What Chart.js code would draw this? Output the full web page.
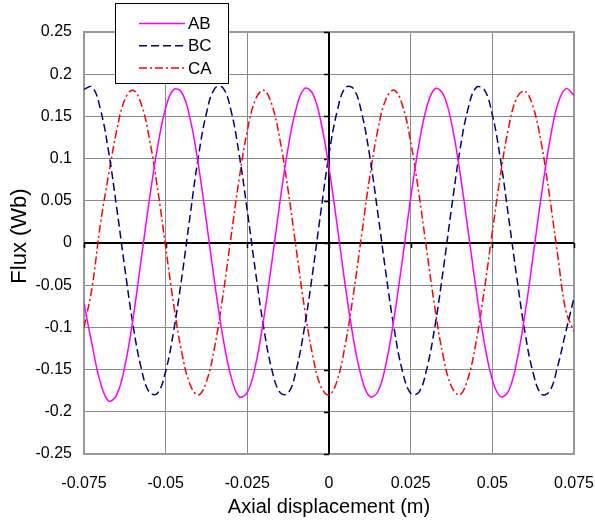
<!DOCTYPE html>
<html>
<head>
<meta charset="utf-8">
<script src="https://cdn.jsdelivr.net/npm/chart.js@4.4.1/dist/chart.umd.min.js"></script>
<style>
  html, body { margin: 0; padding: 0; background: #fff; }
</style>
</head>
<body>
<canvas id="c" width="595" height="522"></canvas>
<script>
// Axial displacement (m)
const xPos = [
  -0.075, -0.0725, -0.07, -0.0675, -0.065, -0.0625, -0.06, -0.0575, -0.055, -0.0525,
  -0.05, -0.0475, -0.045, -0.0425, -0.04, -0.0375, -0.035, -0.0325, -0.03, -0.0275,
  -0.025, -0.0225, -0.02, -0.0175, -0.015, -0.0125, -0.01, -0.0075, -0.005, -0.0025,
  0, 0.0025, 0.005, 0.0075, 0.01, 0.0125, 0.015, 0.0175, 0.02, 0.0225,
  0.025, 0.0275, 0.03, 0.0325, 0.035, 0.0375, 0.04, 0.0425, 0.045, 0.0475,
  0.05, 0.0525, 0.055, 0.0575, 0.06, 0.0625, 0.065, 0.0675, 0.07, 0.0725,
  0.075
];

// Flux (Wb) per phase pair
const fluxAB = [
  -0.072, -0.121, -0.165, -0.187, -0.180, -0.146, -0.090, -0.020, 0.051, 0.113,
  0.160, 0.182, 0.178, 0.147, 0.093, 0.025, -0.047, -0.111, -0.158, -0.182,
  -0.177, -0.145, -0.090, -0.023, 0.049, 0.113, 0.160, 0.183, 0.177, 0.144,
  0.089, 0.021, -0.051, -0.114, -0.160, -0.182, -0.176, -0.142, -0.087, -0.019,
  0.053, 0.116, 0.162, 0.183, 0.176, 0.142, 0.086, 0.017, -0.054, -0.117,
  -0.162, -0.182, -0.175, -0.140, -0.084, -0.015, 0.056, 0.119, 0.164, 0.183,
  0.175
];
const fluxBC = [
  0.182, 0.185, 0.159, 0.109, 0.042, -0.030, -0.097, -0.148, -0.177, -0.178,
  -0.152, -0.103, -0.039, 0.033, 0.102, 0.154, 0.183, 0.184, 0.157, 0.105,
  0.038, -0.034, -0.100, -0.150, -0.177, -0.178, -0.150, -0.100, -0.035, 0.037,
  0.105, 0.156, 0.184, 0.183, 0.154, 0.102, 0.034, -0.038, -0.103, -0.152,
  -0.178, -0.177, -0.148, -0.097, -0.031, 0.041, 0.108, 0.158, 0.184, 0.182,
  0.152, 0.099, 0.030, -0.041, -0.106, -0.154, -0.179, -0.176, -0.146, -0.105,
  -0.065
];
const fluxCA = [
  -0.100, -0.052, 0.022, 0.080, 0.133, 0.170, 0.181, 0.165, 0.124, 0.065,
  -0.005, -0.074, -0.131, -0.168, -0.180, -0.164, -0.123, -0.063, 0.007, 0.076,
  0.133, 0.170, 0.181, 0.164, 0.122, 0.062, -0.008, -0.077, -0.133, -0.170,
  -0.180, -0.163, -0.120, -0.060, 0.010, 0.079, 0.135, 0.171, 0.181, 0.163,
  0.120, 0.059, -0.011, -0.079, -0.135, -0.170, -0.180, -0.161, -0.118, -0.057,
  0.013, 0.081, 0.137, 0.172, 0.180, 0.161, 0.118, 0.056, -0.014, -0.080,
  -0.105
];

const xTicks = [-0.075, -0.05, -0.025, 0, 0.025, 0.05, 0.075];
const yTicks = [-0.25, -0.2, -0.15, -0.1, -0.05, 0, 0.05, 0.1, 0.15, 0.2, 0.25];

const FONT = '"Liberation Sans", Arial, sans-serif';
const pts = ys => xPos.map((x, i) => ({ x: x, y: ys[i] }));

// plot frame + the black zero axes with their little crossing ticks
const zeroAxes = {
  id: 'zeroAxes',
  beforeDatasetsDraw(chart) {
    const { ctx, chartArea: a, scales: { x, y } } = chart;
    ctx.save();
    ctx.strokeStyle = '#999';
    ctx.lineWidth = 2;
    ctx.strokeRect(a.left, a.top, a.right - a.left, a.bottom - a.top);

    const x0 = Math.round(x.getPixelForValue(0));
    const y0 = Math.round(y.getPixelForValue(0));
    ctx.strokeStyle = '#000';
    ctx.beginPath();
    ctx.moveTo(x0, a.top); ctx.lineTo(x0, a.bottom);
    ctx.moveTo(a.left, y0); ctx.lineTo(a.right, y0);
    ctx.stroke();

    ctx.lineWidth = 1.5;
    ctx.beginPath();
    y.ticks.forEach(t => {
      const py = Math.round(y.getPixelForValue(t.value)) + 0.5;
      ctx.moveTo(x0 - 5, py); ctx.lineTo(x0, py);
    });
    x.ticks.forEach(t => {
      const px = Math.round(x.getPixelForValue(t.value)) + 0.5;
      ctx.moveTo(px, y0); ctx.lineTo(px, y0 + 5);
    });
    ctx.stroke();
    ctx.restore();
  }
};

// boxed legend and axis titles
const overlay = {
  id: 'overlay',
  afterDraw(chart) {
    const ctx = chart.ctx;
    ctx.save();
    ctx.fillStyle = '#fff';
    ctx.fillRect(115, 3, 113, 80);
    ctx.strokeStyle = '#000';
    ctx.lineWidth = 1;
    ctx.strokeRect(115.5, 3.5, 113, 80);

    ctx.font = '17px ' + FONT;
    ctx.textAlign = 'left';
    ctx.textBaseline = 'middle';
    chart.data.datasets.forEach((ds, i) => {
      const ly = 23.5 + i * 22.3;
      ctx.strokeStyle = ds.borderColor;
      ctx.lineWidth = ds.borderWidth;
      ctx.setLineDash(ds.borderDash || []);
      ctx.beginPath();
      ctx.moveTo(139, ly); ctx.lineTo(185, ly);
      ctx.stroke();
      ctx.setLineDash([]);
      ctx.fillStyle = '#000';
      ctx.fillText(ds.label, 188, ly + 1);
    });

    ctx.fillStyle = '#000';
    ctx.font = '20px ' + FONT;
    ctx.textAlign = 'center';
    ctx.textBaseline = 'alphabetic';
    ctx.fillText('Axial displacement (m)', 329, 513);

    ctx.translate(26, 236);
    ctx.rotate(-Math.PI / 2);
    ctx.font = '22px ' + FONT;
    ctx.fillText('Flux (Wb)', 0, 0);
    ctx.restore();
  }
};

new Chart(document.getElementById('c'), {
  type: 'line',
  data: {
    datasets: [
      { label: 'AB', data: pts(fluxAB), borderColor: '#ff00ff', borderWidth: 1.5, pointRadius: 0, tension: 0.4, fill: false },
      { label: 'BC', data: pts(fluxBC), borderColor: '#000080', borderWidth: 1.5, borderDash: [8, 4], pointRadius: 0, tension: 0.4, fill: false },
      { label: 'CA', data: pts(fluxCA), borderColor: '#ff0000', borderWidth: 1.5, borderDash: [8, 3, 2, 3], pointRadius: 0, tension: 0.4, fill: false }
    ]
  },
  plugins: [zeroAxes, overlay],
  options: {
    responsive: false,
    animation: false,
    devicePixelRatio: 1,
    layout: { padding: { top: 32, right: 21, left: 0, bottom: 0 } },
    plugins: { legend: { display: false }, tooltip: { enabled: false } },
    scales: {
      x: {
        type: 'linear',
        min: -0.075,
        max: 0.075,
        afterBuildTicks: s => { s.ticks = xTicks.map(v => ({ value: v })); },
        afterFit: s => { s.height = 68; s.paddingLeft = 0; s.paddingRight = 0; },
        grid: { color: '#8a8a8a', lineWidth: 1, drawTicks: false },
        border: { display: false },
        ticks: { color: '#000', padding: 20, maxRotation: 0, font: { family: FONT, size: 16 }, callback: v => String(+v.toFixed(3)) }
      },
      y: {
        type: 'linear',
        min: -0.25,
        max: 0.25,
        afterBuildTicks: s => { s.ticks = yTicks.map(v => ({ value: v })); },
        afterFit: s => { s.width = 84; s.paddingTop = 0; s.paddingBottom = 0; },
        grid: { color: '#8a8a8a', lineWidth: 1, drawTicks: false },
        border: { display: false },
        ticks: { color: '#000', padding: 12, font: { family: FONT, size: 16 }, callback: v => String(+v.toFixed(2)) }
      }
    }
  }
});
</script>
</body>
</html>
